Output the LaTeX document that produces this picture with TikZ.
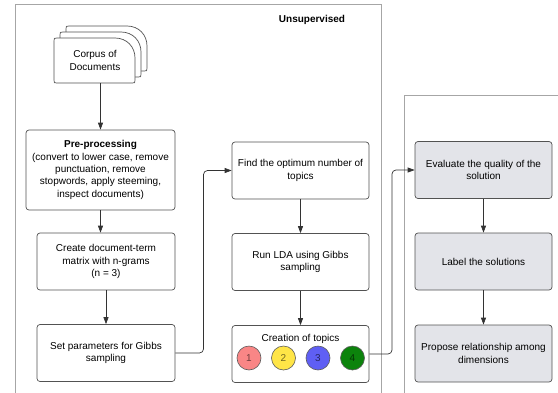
\documentclass[tikz,border=0pt]{standalone}
\usepackage{fontspec}
\setmainfont{Liberation Sans}
\usetikzlibrary{arrows.meta,calc}

\definecolor{linegray}{HTML}{333333}
\definecolor{boxgray}{HTML}{E3E4E9}
\definecolor{framegray}{HTML}{A6A6A6}
\definecolor{topicred}{HTML}{F98686}
\definecolor{topicyellow}{HTML}{FFE547}
\definecolor{topicblue}{HTML}{5F5FF4}
\definecolor{topicgreen}{HTML}{0C830C}

\tikzset{
  stepbox/.style={draw=linegray!85,line width=0.7pt,rounded corners=3pt,
    align=center,fill=white,minimum width=138pt,minimum height=57pt,inner sep=2pt},
  evalbox/.style={stepbox,fill=boxgray},
  topic/.style={circle,draw=linegray!80,line width=0.6pt,minimum size=24pt,inner sep=0pt},
  link/.style={draw=linegray,line width=0.7pt,-{Triangle[length=7pt,width=5pt]}},
  frameline/.style={draw=framegray,line width=1pt}
}

\begin{document}
\begin{tikzpicture}[x=1pt,y=-1pt,font=\fontsize{10}{12.4}\selectfont]
  \clip (0,0) rectangle (558,392);

  % frames
  \draw[frameline] (15,400) -- (15,4) -- (381,4) -- (381,400);
  \draw[frameline] (404,400) -- (404,95) -- (565,95);
  \node[font=\fontsize{10}{12}\selectfont\bfseries] (unsup) at (312,20) {Unsupervised};

  % stack of documents
  \foreach \d in {12,6,0}
    \draw[draw=linegray!85,line width=0.7pt,fill=white,shift={(\d,-\d)}]
      (57,38) -- (115,38) .. controls (127,38) and (135,47) .. (135,58)
      -- (135,80) .. controls (135,83) .. (132,83) -- (57,83)
      .. controls (54,83) .. (54,80) -- (54,41) .. controls (54,38) .. (57,38) -- cycle;
  \node[minimum width=81pt,minimum height=45pt,align=center] (corpus) at (95,60.5)
    {Corpus of\\Documents};

  % left column
  \begin{scope}[every node/.style={stepbox}]
    \node[minimum width=149pt,minimum height=80pt] (pre) at (100.5,170)
      {\textbf{Pre-processing}\\(convert to lower case, remove\\punctuation, remove\\stopwords, apply steeming,\\inspect documents)};
    \node (dtm)   at (106,261.5) {Create document-term\\matrix with n-grams\\(n = 3)};
    \node (gibbs) at (106,353)   {Set parameters for Gibbs\\sampling};
  \end{scope}

  % middle column
  \begin{scope}[every node/.style={stepbox,minimum width=137pt}]
    \node (find)   at (300.5,170.5) {Find the optimum number of\\topics};
    \node (lda)    at (300.5,262)   {Run LDA using Gibbs\\sampling};
    \node (topics) at (300.5,354)   {};
  \end{scope}
  \node (toptitle) at (300.5,339) {Creation of topics};
  \node[topic,fill=topicred,text=topicred!45!black]       (t1) at (249,358) {1};
  \node[topic,fill=topicyellow,text=topicyellow!45!black] (t2) at (283.5,358) {2};
  \node[topic,fill=topicblue,text=topicblue!40!black]     (t3) at (318,358) {3};
  \node[topic,fill=topicgreen,text=topicgreen!40!black]   (t4) at (352.5,358) {4};

  % right column
  \begin{scope}[every node/.style={evalbox,minimum width=137pt}]
    \node (eval)    at (483.5,170)   {Evaluate the quality of the\\solution};
    \node (label)   at (483.5,261.5) {Label the solutions};
    \node (propose) at (483.5,353.5) {Propose relationship among\\dimensions};
  \end{scope}

  % connectors
  \begin{scope}[every edge/.style={link}]
    \path (corpus.south -| pre.north) edge (pre.north);
    \path (pre.south) edge (pre.south |- dtm.north);
    \path (dtm) edge (gibbs);
    \path (find) edge (lda);
    \path (lda) edge (topics);
    \path (eval) edge (label);
    \path (label) edge (propose);
  \end{scope}
  \draw[link,rounded corners=4pt] (gibbs.east) -| ($(gibbs.east)!0.5!(find.west)$) |- (find.west);
  \draw[link,rounded corners=4pt] (topics.east) -| ($(topics.east)!0.5!(eval.west)$) |- (eval.west);

\end{tikzpicture}
\end{document}
